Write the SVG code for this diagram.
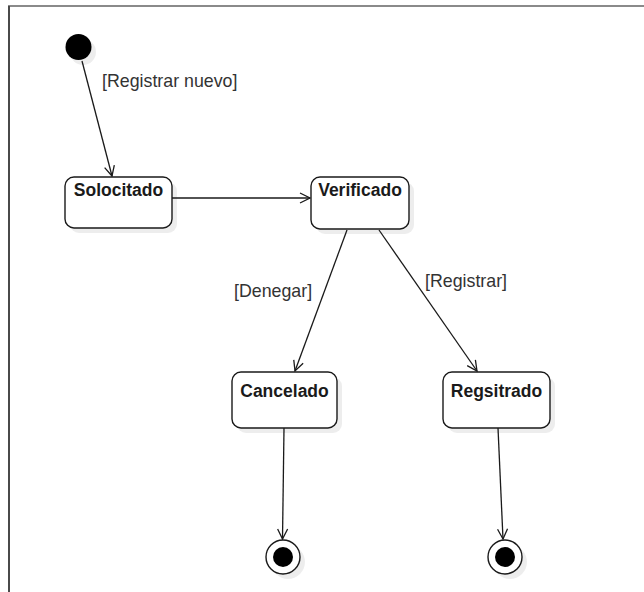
<svg xmlns="http://www.w3.org/2000/svg" width="644" height="592" viewBox="0 0 644 592">
  <style>
    .state rect.body { fill: #ffffff; stroke: #1a1a1a; stroke-width: 1.4; }
    .shadow { fill: #000000; opacity: 0.07; }
    .name { font-family: "Liberation Sans", Arial, sans-serif; font-weight: bold; font-size: 17.5px; fill: #1a1a1a; text-anchor: middle; }
    .guard { font-family: "Liberation Sans", Arial, sans-serif; font-size: 17.8px; fill: #333333; }
    .edge { fill: none; stroke: #1a1a1a; stroke-width: 1.3; }
  </style>
  <defs>
    <marker id="open" viewBox="0 0 12 12" refX="11" refY="6" markerWidth="12" markerHeight="12" markerUnits="userSpaceOnUse" orient="auto">
      <path d="M1,1 L11,6 L1,11" fill="none" stroke="#1a1a1a" stroke-width="1.3"/>
    </marker>
  </defs>

  <rect x="0" y="0" width="644" height="592" fill="#ffffff"/>

  <!-- frame -->
  <line x1="8" y1="6" x2="644" y2="6" stroke="#8a8a8a" stroke-width="2"/>
  <line x1="9" y1="6" x2="9" y2="592" stroke="#4a4a4a" stroke-width="2"/>

  <!-- initial state -->
  <g id="initial">
    <circle class="shadow" cx="83" cy="52" r="13"/>
    <circle cx="78.5" cy="47" r="13" fill="#000000"/>
  </g>

  <g id="solocitado" class="state">
    <rect class="shadow" x="70" y="182" width="107" height="51" rx="9"/>
    <rect class="body" x="65" y="177" width="107" height="51" rx="9"/>
    <text class="name" x="118.5" y="196">Solocitado</text>
  </g>

  <g id="verificado" class="state">
    <rect class="shadow" x="316" y="182" width="98" height="52" rx="9"/>
    <rect class="body" x="311" y="177" width="98" height="52" rx="9"/>
    <text class="name" x="360" y="196">Verificado</text>
  </g>

  <g id="cancelado" class="state">
    <rect class="shadow" x="237" y="377" width="105" height="56" rx="9"/>
    <rect class="body" x="232" y="372" width="105" height="56" rx="9"/>
    <text class="name" x="284.5" y="397">Cancelado</text>
  </g>

  <g id="regsitrado" class="state">
    <rect class="shadow" x="448" y="377" width="107" height="56" rx="9"/>
    <rect class="body" x="443" y="372" width="107" height="56" rx="9"/>
    <text class="name" x="496.5" y="397">Regsitrado</text>
  </g>

  <g id="final-cancelado">
    <circle class="shadow" cx="288" cy="562" r="17"/>
    <circle cx="283" cy="557" r="17" fill="#ffffff" stroke="#1a1a1a" stroke-width="1.4"/>
    <circle cx="283" cy="557" r="10" fill="#000000"/>
  </g>

  <g id="final-regsitrado">
    <circle class="shadow" cx="510" cy="562" r="17"/>
    <circle cx="505" cy="557" r="17" fill="#ffffff" stroke="#1a1a1a" stroke-width="1.4"/>
    <circle cx="505" cy="557" r="10" fill="#000000"/>
  </g>

  <!-- transitions -->
  <g id="connectors">
    <path class="edge" d="M82,61 L112,176" marker-end="url(#open)"/>
    <path class="edge" d="M172,198 L310,198" marker-end="url(#open)"/>
    <path class="edge" d="M347,230 L295,371" marker-end="url(#open)"/>
    <path class="edge" d="M379,230 L477,371" marker-end="url(#open)"/>
    <path class="edge" d="M284,428 L282.5,539" marker-end="url(#open)"/>
    <path class="edge" d="M498,428 L503,539" marker-end="url(#open)"/>
    <text class="guard" x="102" y="87">[Registrar nuevo]</text>
    <text class="guard" x="234" y="297">[Denegar]</text>
    <text class="guard" x="425" y="287">[Registrar]</text>
  </g>
</svg>
